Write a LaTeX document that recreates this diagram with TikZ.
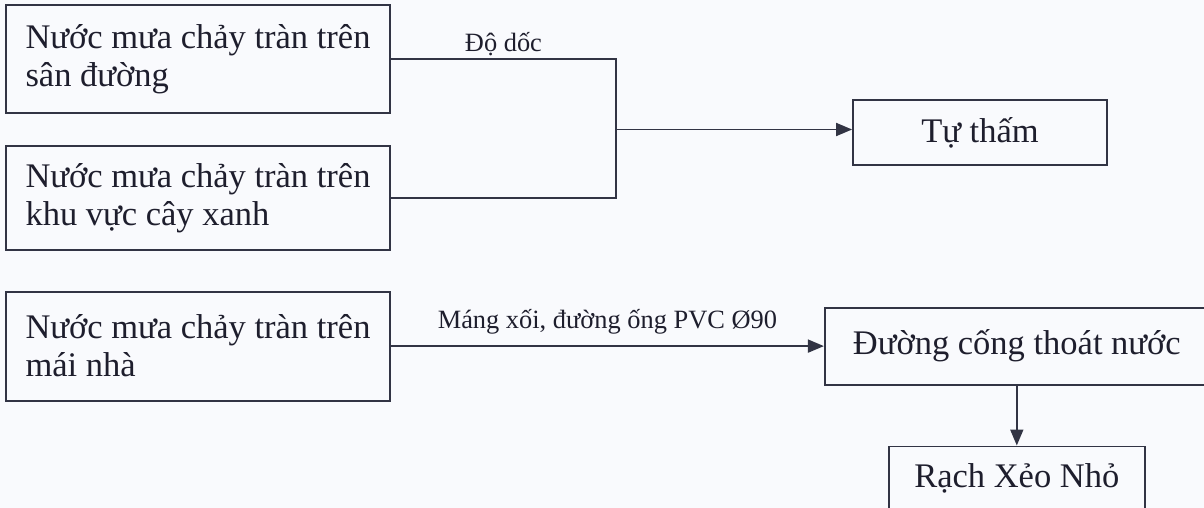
\documentclass[tikz,border=0pt]{standalone}
\usepackage{fontspec}
\setmainfont{Liberation Serif}
\usetikzlibrary{arrows.meta,positioning}
\definecolor{inkline}{RGB}{50,52,68}
\definecolor{inktext}{RGB}{30,30,45}
\definecolor{paper}{RGB}{249,250,253}

\begin{document}
\begin{tikzpicture}[x=0.5pt, y=-0.5pt, every node/.style={text=inktext},
  srcbox/.style={draw=inkline, line width=0.9pt, minimum width=192pt, minimum height=54pt,
    align=left, inner sep=0pt, font=\fontsize{17.25pt}{19pt}\selectfont},
  dstbox/.style={draw=inkline, line width=0.9pt, inner sep=0pt, font=\fontsize{17.25pt}{19pt}\selectfont},
  lbl/.style={inner sep=0pt, font=\fontsize{13.2pt}{15pt}\selectfont},
  wire/.style={draw=inkline, line width=0.9pt},
  arr/.style={wire, -{Triangle[length=8pt, width=6.5pt]}}]
\path[use as bounding box, fill=paper] (0,0) rectangle (1204,508);
\clip (0,0) rectangle (1204,508);
\node[srcbox] (road) at (198,59) {Nước mưa chảy tràn trên\\sân đường};
\node[srcbox, minimum height=52pt, below=15.5pt of road] (green) {Nước mưa chảy tràn trên\\khu vực cây xanh};
\node[srcbox, minimum height=54.5pt, below=20pt of green] (roof) {Nước mưa chảy tràn trên\\mái nhà};
\node[dstbox, minimum width=127pt, minimum height=32.5pt] (soak) at (980,132.5) {Tự thấm};
\node[dstbox, minimum width=192pt, minimum height=38.5pt, right=216.5pt of roof] (sewer) {Đường cống thoát nước};
\node[dstbox, minimum width=128pt, minimum height=31.5pt, below=30pt of sewer] (canal) {Rạch Xẻo Nhỏ};
\coordinate (jn) at (616,129.5);
% runoff by slope
\draw[wire] (road.east) -| node[lbl, pos=0.25, above=1pt] (slope) {Độ dốc} (jn) |- (green.east);
\draw[arr] (jn) -- (jn -| soak.west);
% roof water to drains
\draw[arr] (roof.east) -- node[lbl, above=5.6pt] (gutter) {Máng xối, đường ống PVC Ø90} (sewer.west);
\draw[arr] (sewer.south) -- (canal.north);
\end{tikzpicture}
\end{document}
